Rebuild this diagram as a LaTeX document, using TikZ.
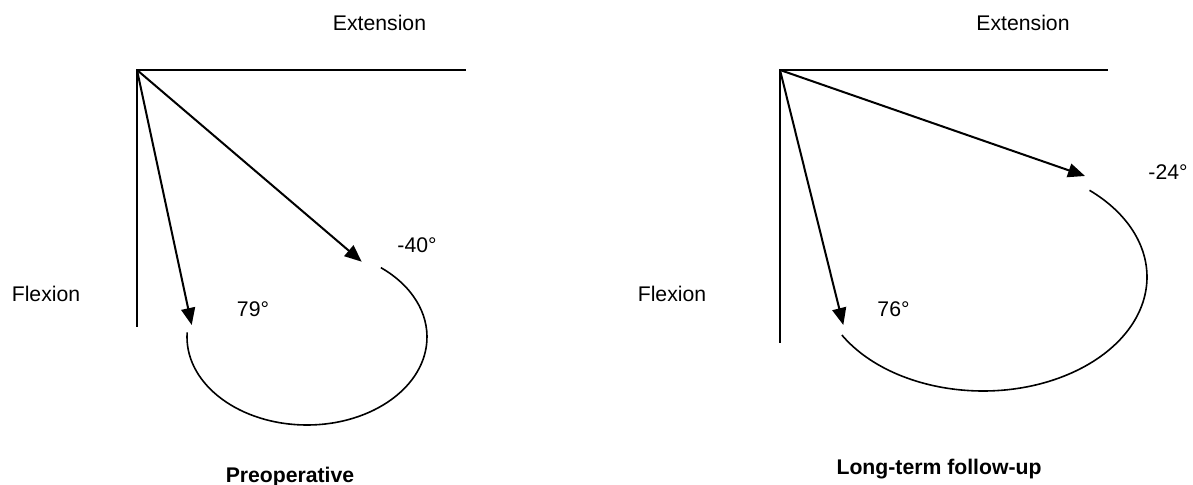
\documentclass[tikz,border=0pt]{standalone}
\usepackage{fontspec}
\setmainfont{Liberation Sans}
\usetikzlibrary{arrows.meta}
\begin{document}
\begin{tikzpicture}[x=0.5pt,y=0.5pt,
  axis/.style={line width=1pt},
  vec/.style={line width=1pt,-{Triangle[length=8.5pt,width=7pt]}},
  swing/.style={line width=0.8pt},
  lbl/.style={anchor=base,inner sep=0pt,font=\fontsize{10.6}{12}\selectfont},
  ttl/.style={anchor=base,inner sep=0pt,font=\fontsize{10.6}{12}\selectfont\bfseries}]
\useasboundingbox (0,0) rectangle (1193,485);
% ---------- left panel ----------
\coordinate (o1) at (137,415);
\coordinate (h1) at (466,415);
\coordinate (v1) at (137,158);
\coordinate (a1) at (191.7,160);
\coordinate (b1) at (361.7,223.3);
\coordinate (c1) at (307,148);
\draw[axis] (v1) -- (o1) -- (h1);
\draw[vec] (o1) -- (a1);
\draw[vec] (o1) -- (b1);
\draw[swing] (c1) ++(177:120 and 88) arc[start angle=177,end angle=412,x radius=120,y radius=88];
\node[lbl] (ext1) at (379.5,454.5) {Extension};
\node[lbl] (flx1) at (46,183) {Flexion};
\node[lbl] (d79) at (253,168) {79°};
\node[lbl] (d40) at (417,232) {-40°};
\node[ttl] (pre) at (290,2.5) {Preoperative};
% ---------- right panel ----------
\coordinate (o2) at (780,415);
\coordinate (h2) at (1108,415);
\coordinate (v2) at (780,142.3);
\coordinate (a2) at (843.3,160);
\coordinate (b2) at (1085,309);
\coordinate (c2) at (983,208);
\draw[axis] (v2) -- (o2) -- (h2);
\draw[vec] (o2) -- (a2);
\draw[vec] (o2) -- (b2);
\draw[swing] (c2) ++(210.6:164 and 114) arc[start angle=210.6,end angle=409.5,x radius=164,y radius=114];
\node[lbl] (ext2) at (1023,454.5) {Extension};
\node[lbl] (flx2) at (672,183) {Flexion};
\node[lbl] (d76) at (893.5,168) {76°};
\node[lbl] (d24) at (1168,305) {-24°};
\node[ttl] (lt) at (939,10) {Long-term follow-up};
\end{tikzpicture}
\end{document}
